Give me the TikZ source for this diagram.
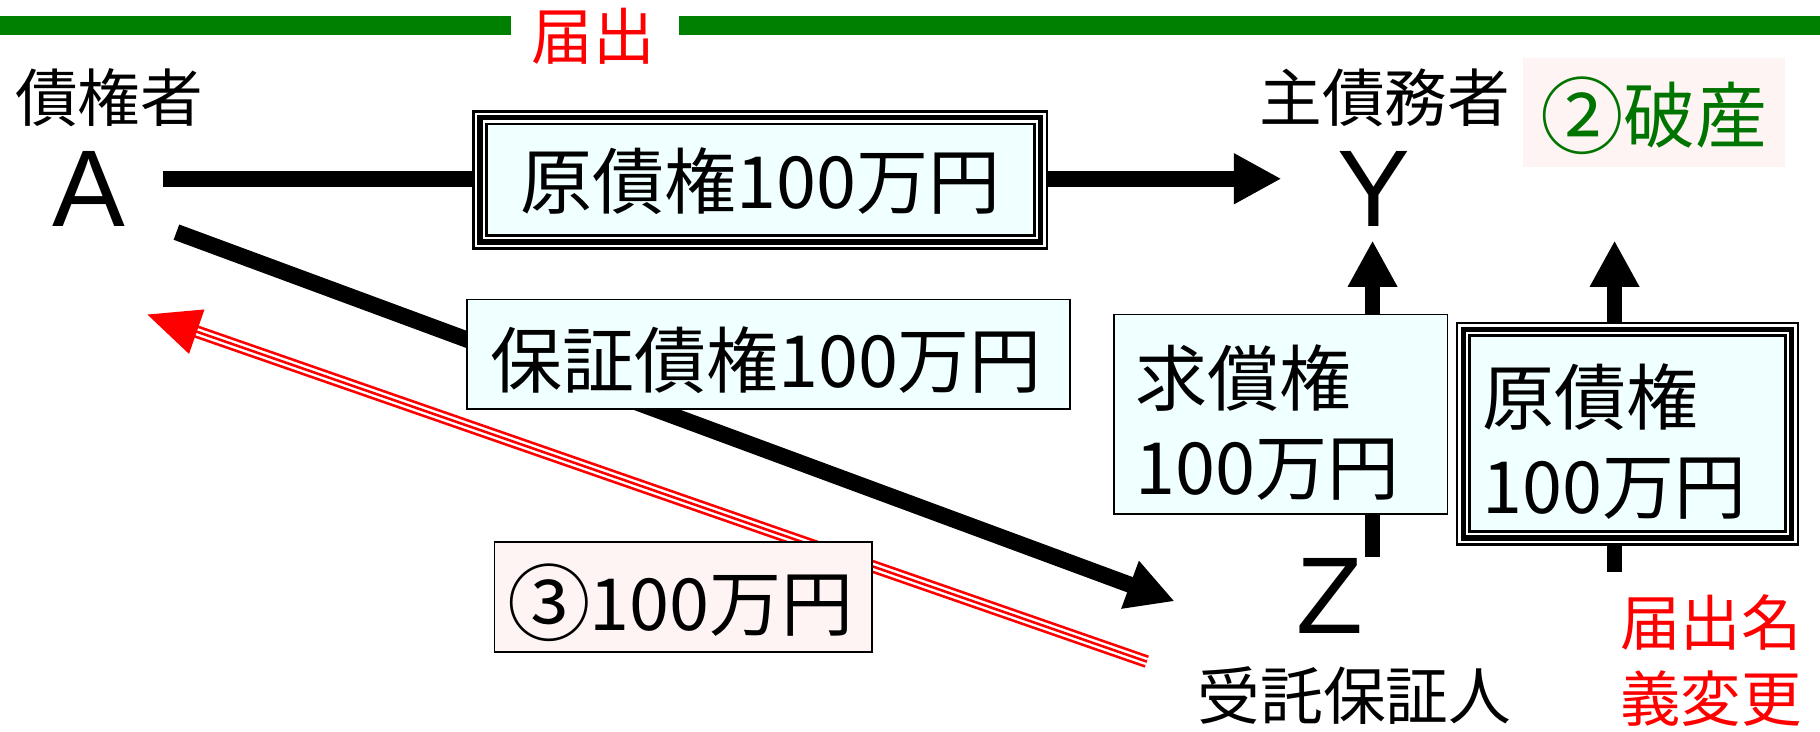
\documentclass[tikz,border=0pt]{standalone}
\usepackage{fontspec}
\setmainfont{Noto Sans CJK JP}
\newfontfamily\latinfont{Liberation Sans}
\usetikzlibrary{arrows.meta,backgrounds}
\definecolor{boxfill}{HTML}{F0FFFF}
\definecolor{pinkfill}{HTML}{FFF4F4}
\definecolor{linegreen}{HTML}{008000}
\definecolor{textgreen}{HTML}{007400}
\definecolor{myred}{HTML}{FF0000}
\newcommand\circnum[1]{\raisebox{-4pt}{\fontsize{72}{80}\selectfont #1}\kern-1pt}
\tikzset{
  lbl/.style={inner sep=0pt, anchor=base, font=\fontsize{54}{60}\selectfont},
  bigletter/.style={inner sep=0pt, anchor=base, font=\latinfont\fontsize{94}{100}\selectfont},
  boxtext/.style={inner sep=0pt, font=\fontsize{62}{70}\selectfont},
  plainbox/.style={draw=black, line width=1.6pt, fill=boxfill, inner sep=0pt, outer sep=0pt},
  tribox/.style={draw=black, line width=2.3pt, fill=boxfill, inner sep=0pt, outer sep=0pt},
  arr/.style={line width=14pt, -{Triangle[length=41pt,width=41pt]}},
  varr/.style={line width=13pt, -{Triangle[length=40pt,width=40pt]}},
}
\newcommand\triframe[1]{%
  \draw[line width=2pt, fill=white] ([shift={(-10.95pt,10.95pt)}]#1.north west) rectangle ([shift={(10.95pt,-10.95pt)}]#1.south east);
  \draw[line width=4.5pt] ([shift={(-5.4pt,5.4pt)}]#1.north west) rectangle ([shift={(5.4pt,-5.4pt)}]#1.south east);}
\begin{document}
\begin{tikzpicture}[x=1pt,y=-1pt]
\useasboundingbox (0,0) rectangle (1568,630.6);
% header
\node[lbl, font=\fontsize{53}{60}\selectfont, text=myred] (todoke) at (511,51) {届出};
\coordinate (g1) at (0,22); \coordinate (g2) at (440,22);
\coordinate (g3) at (585,22); \coordinate (g4) at (1568,22);
\draw[linegreen, line width=16pt] (g1) -- (g2) (g3) -- (g4);
% parties
\node[lbl] (cred) at (94,105) {債権者};
\node[bigletter] (A) at (77,195) {A};
\node[lbl] (debt) at (1193,105) {主債務者};
\node[bigletter] (Y) at (1184,195) {Y};
\node[bigletter] (Z) at (1146,546) {Z};
\node[lbl] (guar) at (1167,620) {受託保証人};
\node[lbl, font=\fontsize{52}{60}\selectfont, text=myred] (nm1) at (1474,556) {届出名};
\node[lbl, font=\fontsize{52}{60}\selectfont, text=myred] (nm2) at (1474,622) {義変更};
% boxes
\node[tribox, minimum width=472.1pt, minimum height=96.1pt] (tb) at (655,155) {};
\node[boxtext, anchor=base] (tbt) at (655,180) {原債権100万円};
\node[plainbox, minimum width=520pt, minimum height=94pt] (gb) at (662,305) {};
\node[boxtext, anchor=base] (gbt) at (660,334) {保証債権100万円};
\node[plainbox, minimum width=287pt, minimum height=172pt] (qb) at (1103.5,357) {};
\node[boxtext, anchor=base west] (qb1) at (978,349) {求償権};
\node[boxtext, anchor=base west] (qb2) at (978,426) {100万円};
\node[tribox, minimum width=272.1pt, minimum height=169.1pt] (rb) at (1402,373.5) {};
\node[boxtext, anchor=base west] (rb1) at (1277,366) {原債権};
\node[boxtext, anchor=base west] (rb2) at (1277,442) {100万円};
\node[plainbox, fill=pinkfill, minimum width=325pt, minimum height=95pt] (pb) at (588.5,514.5) {};
\node[boxtext, anchor=base] (pbt) at (586,543) {\circnum{③}100万円};
\node[fill=pinkfill, minimum width=226pt, minimum height=94pt, inner sep=0pt] (bk) at (1425,97) {};
\node[boxtext, anchor=base, text=textgreen] (bkt) at (1425,123) {\circnum{②}破産};
% connectors
\begin{scope}[on background layer]
  \coordinate (a1) at (140,154); \coordinate (y1) at (1104,154);
  \draw[arr] (a1) -- (y1);
  \coordinate (a2) at (152,200); \coordinate (z2) at (1012,518);
  \draw[arr] (a2) -- (z2);
  \coordinate (r1) at (988,570); \coordinate (r2) at (127,271);
  \draw[myred, line width=11pt, shorten >=43pt] (r1) -- (r2);
  \draw[white, line width=6.4pt, shorten >=43pt] (r1) -- (r2);
  \draw[myred, line width=2.2pt, -{Triangle[length=45pt,width=40pt]}] (r1) -- (r2);
  \coordinate (zt) at (1182.5,480);
  \draw[varr, shorten >=12pt] (zt) -- (zt |- Y.south);
  \coordinate (rt) at (1391,493);
  \draw[varr, shorten >=12pt] (rt) -- (rt |- Y.south);
  \triframe{tb}
  \triframe{rb}
\end{scope}
\end{tikzpicture}
\end{document}
